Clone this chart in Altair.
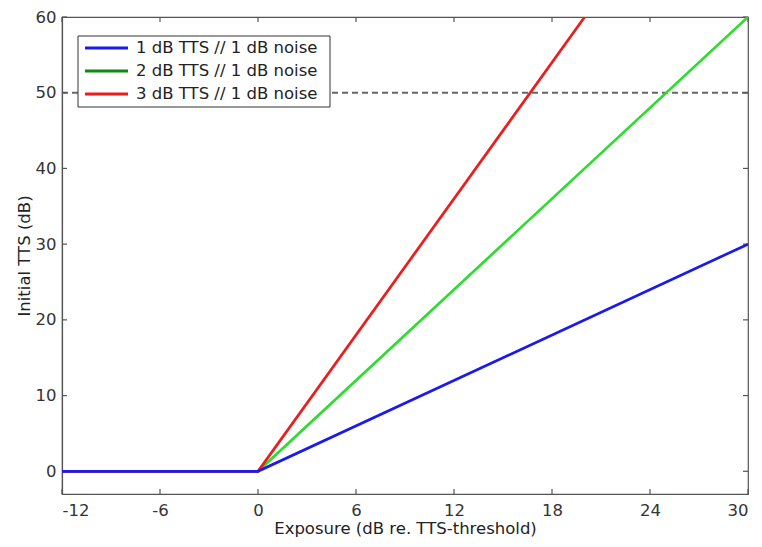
import altair as alt
import pandas as pd

series = ["1 dB TTS // 1 dB noise", "2 dB TTS // 1 dB noise", "3 dB TTS // 1 dB noise"]
x_pts = [[-12, 0, 30], [-12, 0, 30], [-12, 0, 20]]
y_pts = [[0, 0, 30], [0, 0, 60], [0, 0, 60]]
line_colors = ["#1a1aee", "#2fdc2f", "#ee1c1c"]
legend_colors = ["#1a1aee", "#118811", "#ee1c1c"]
draw_order = [2, 0, 1]  # blue drawn last (on top)
x_ticks = [-12, -6, 0, 6, 12, 18, 24, 30]
y_ticks = [0, 10, 20, 30, 40, 50, 60]
threshold = [50]

W, H = 686, 477
TK = 5
font = "DejaVu Sans"
FS = 16.5

rows = []
for s, xs, ys, c, o in zip(series, x_pts, y_pts, line_colors, draw_order):
    for i, (xv, yv) in enumerate(zip(xs, ys)):
        rows.append({"series": s, "x": xv, "y": yv, "stroke": c, "z": o, "i": i})
df = pd.DataFrame(rows).sort_values(["z", "i"]).reset_index(drop=True)

xscale = alt.Scale(domain=[-12, 30], nice=False, zero=False)
yscale = alt.Scale(domain=[-3, 60], nice=False, zero=False)

xax = alt.Axis(values=x_ticks, title="Exposure (dB re. TTS-threshold)", labelExpr="'' + datum.value",
               ticks=False, labelPadding=8, grid=False, titlePadding=2)
yax = alt.Axis(values=y_ticks, title="Initial TTS (dB)", labelExpr="'' + datum.value",
               ticks=False, labelPadding=6, grid=False, titlePadding=3)

dash = alt.Chart(pd.DataFrame({"y": threshold})).mark_rule(
    color="#666666", strokeWidth=2, strokeDash=[6, 4]
).encode(y=alt.Y("y:Q", scale=yscale, axis=yax))

lines = alt.Chart(df).mark_line(strokeWidth=2.7, clip=True).encode(
    x=alt.X("x:Q", scale=xscale, axis=xax),
    y=alt.Y("y:Q", scale=yscale),
    detail="z:O",
    stroke=alt.Stroke("stroke:N", scale=None),
    order=alt.Order("i:Q"),
)

xt = pd.DataFrame({"x": x_ticks})
yt = pd.DataFrame({"y": y_ticks})
tick_style = dict(color="#555555", strokeWidth=1.2)
xb = alt.Chart(xt).mark_rule(**tick_style).encode(
    x=alt.X("x:Q", scale=xscale), y=alt.value(H), y2=alt.value(H - TK))
xtop = alt.Chart(xt).mark_rule(**tick_style).encode(
    x=alt.X("x:Q", scale=xscale), y=alt.value(0), y2=alt.value(TK))
yl = alt.Chart(yt).mark_rule(**tick_style).encode(
    y=alt.Y("y:Q", scale=yscale), x=alt.value(0), x2=alt.value(TK))
yr = alt.Chart(yt).mark_rule(**tick_style).encode(
    y=alt.Y("y:Q", scale=yscale), x=alt.value(W), x2=alt.value(W - TK))

# legend (drawn manually, MATLAB style)
one = pd.DataFrame({"a": [0]})
legend_layers = [
    alt.Chart(one).mark_rect(fill="white", stroke="#333333", strokeWidth=1).encode(
        x=alt.value(16), x2=alt.value(268), y=alt.value(19), y2=alt.value(90))
]
for k, (s, c) in enumerate(zip(series, legend_colors)):
    yy = 31 + 23 * k
    legend_layers.append(alt.Chart(one).mark_rule(color=c, strokeWidth=3).encode(
        x=alt.value(23), x2=alt.value(66), y=alt.value(yy)))
    legend_layers.append(alt.Chart(one).mark_text(
        align="left", baseline="middle", font=font, fontSize=FS, color="#222222").encode(
        x=alt.value(74), y=alt.value(yy), text=alt.value(s)))

chart = alt.layer(dash, xb, xtop, yl, yr, lines, *legend_layers).properties(
    width=W, height=H,
    autosize=alt.AutoSizeParams(type="none"),
    padding={"left": 54, "top": 9, "right": 6, "bottom": 45},
).configure_view(stroke="#555555", strokeWidth=1.2).configure_axis(
    domainColor="#555555", labelFont=font, titleFont=font,
    labelFontSize=FS, titleFontSize=FS, labelColor="#333333", titleColor="#222222",
    titleFontWeight="normal", domainWidth=1.2
)

chart.save("out.html", embed_options={"renderer": "svg", "actions": False})
